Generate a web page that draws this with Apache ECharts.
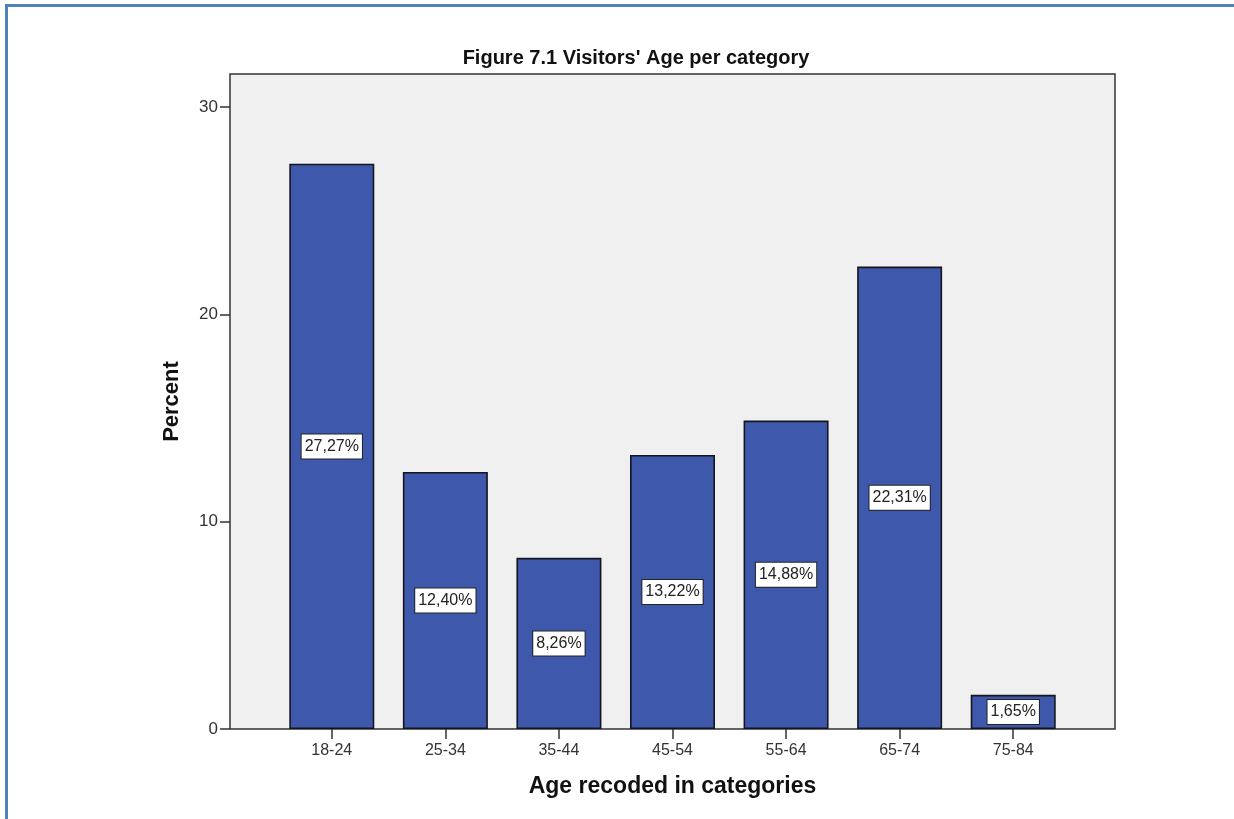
<!DOCTYPE html>
<html>
<head>
<meta charset="utf-8">
<script src="https://cdn.jsdelivr.net/npm/echarts@6/dist/echarts.min.js"></script>
<style>
  html, body { margin: 0; padding: 0; background: #ffffff; }
  #frame { position: absolute; left: 5px; top: 4px; width: 1229px; height: 815px;
           border-top: 3px solid #4f81bd; border-left: 3px solid #4f81bd; box-sizing: border-box; }
  #chart { position: absolute; left: 0; top: 0; width: 1234px; height: 819px; }
</style>
</head>
<body>
<div id="frame"></div>
<div id="chart"></div>
<script>
// Age groups and the share of visitors in each (percent)
var categories = ['18-24', '25-34', '35-44', '45-54', '55-64', '65-74', '75-84'];
var percentValues = [27.27, 12.40, 8.26, 13.22, 14.88, 22.31, 1.65];
var yTicks = [0, 10, 20, 30];

var titleText = "Figure 7.1 Visitors' Age per category";
var xTitle = 'Age recoded in categories';
var yTitle = 'Percent';

var chart = echarts.init(document.getElementById('chart'), null, { renderer: 'canvas' });

var FONT = '"Liberation Sans", Arial, sans-serif';
var yMax = 31.6;

chart.setOption({
  animation: false,
  title: {
    text: titleText,
    left: 631,
    textAlign: 'center',
    top: 43,
    textStyle: { fontFamily: FONT, fontWeight: 'bold', fontSize: 20, color: '#111' }
  },
  grid: [
    // plot frame with the grey panel
    { left: 230, right: 119, top: 74, bottom: 90, show: true,
      backgroundColor: '#f0f0f0', borderColor: '#333', borderWidth: 1.5 },
    // inner band holding the bars, inset from the frame
    { left: 275, right: 164, top: 74, bottom: 90 }
  ],
  xAxis: [
    { type: 'category', gridIndex: 0, data: categories, show: false },
    { type: 'category', gridIndex: 1, data: categories,
      axisLine: { show: false },
      axisTick: { show: true, alignWithLabel: true, length: 10, lineStyle: { color: '#333', width: 1.5 } },
      axisLabel: { fontFamily: FONT, fontSize: 16, color: '#333', margin: 14 },
      name: xTitle, nameLocation: 'middle', nameGap: 46,
      nameTextStyle: { fontFamily: FONT, fontWeight: 'bold', fontSize: 23, color: '#111' }
    }
  ],
  yAxis: [
    { type: 'value', gridIndex: 0, min: 0, max: yMax, interval: 10,
      splitLine: { show: false },
      axisLine: { show: false },
      axisTick: { show: true, length: 10, lineStyle: { color: '#333', width: 1.5 } },
      axisLabel: { fontFamily: FONT, fontSize: 17, color: '#333', margin: 12, showMaxLabel: false,
                   formatter: function (v) { return yTicks.indexOf(v) >= 0 ? String(v) : ''; } },
      name: yTitle, nameLocation: 'middle', nameGap: 47, nameRotate: 90,
      nameTextStyle: { fontFamily: FONT, fontWeight: 'bold', fontSize: 22, color: '#111' }
    },
    { type: 'value', gridIndex: 1, min: 0, max: yMax, show: false }
  ],
  series: [{
    type: 'bar',
    xAxisIndex: 1, yAxisIndex: 1,
    data: percentValues,
    barWidth: 85,
    itemStyle: { color: '#3e58ab', borderColor: '#15151f', borderWidth: 1.6 },
    label: {
      show: true,
      position: 'inside',
      formatter: function (p) { return p.value.toFixed(2).replace('.', ',') + '%'; },
      fontFamily: FONT, fontSize: 16, color: '#222',
      backgroundColor: '#ffffff', borderColor: '#222', borderWidth: 1,
      padding: [5, 3, 3, 3]
    }
  }]
});
</script>
</body>
</html>
